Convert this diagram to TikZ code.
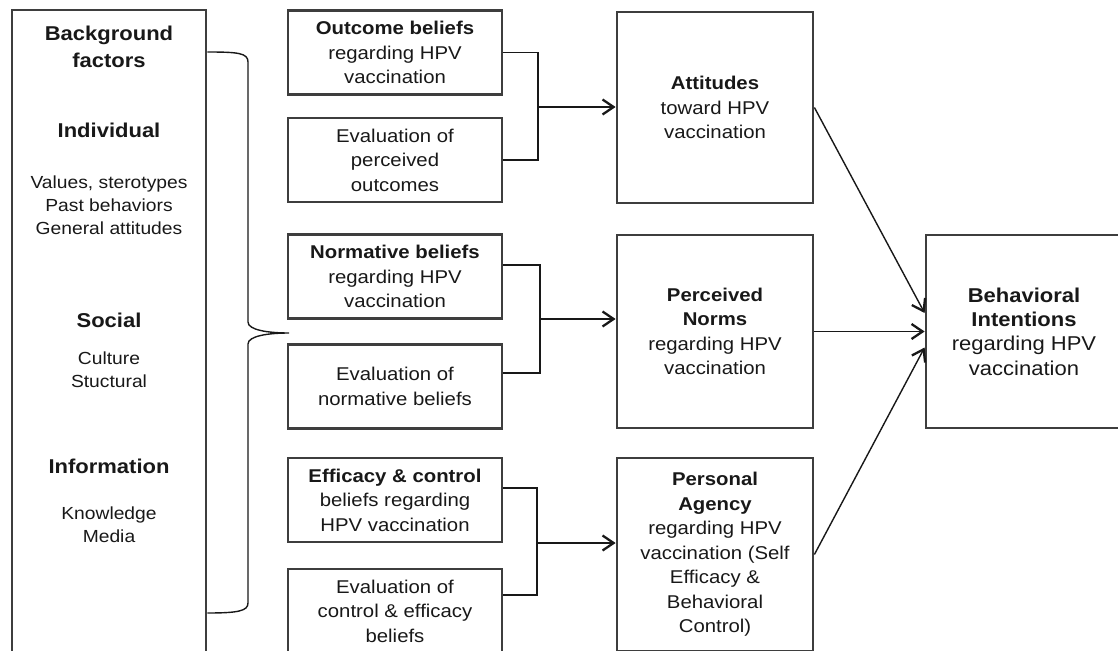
\documentclass[tikz,border=0pt]{standalone}
\usepackage{fontspec}
\setmainfont{Liberation Sans}[FakeStretch=1.1]
\usetikzlibrary{arrows.meta}
\definecolor{boxgray}{RGB}{62,62,62}
\definecolor{ink}{RGB}{24,24,24}

\begin{document}
\begin{tikzpicture}[x=1pt,y=-1pt,
  frame/.style={draw=boxgray, line width=2.8pt, inner sep=0pt, align=center, text=ink},
  pairbox/.style={frame, minimum width=214pt, minimum height=84pt,
    font=\fontsize{18.5}{24.5}\selectfont},
  bigbox/.style={frame, minimum width=196pt, minimum height=193pt,
    font=\fontsize{18.5}{24.5}\selectfont},
  head/.style={text=ink, align=center, inner sep=0pt, font=\bfseries\fontsize{20}{27}\selectfont},
  body/.style={text=ink, align=center, inner sep=0pt, font=\fontsize{17.5}{23}\selectfont},
  link/.style={draw=ink, line width=1.4pt},
  arr/.style={link, -{Straight Barb[length=11pt,width=15pt,line width=2.3pt]}}
]
\useasboundingbox (0,0) rectangle (1118,650);

% background factors column
\node[frame, minimum width=194pt, minimum height=642pt] (bf) at (109,331) {};
\node[head] (bfh) at (109,46.5) {Background\\factors};
\node[head, anchor=base] (ind) at (109,137) {Individual};
\node[body] (indt) at (109,205.5) {Values, sterotypes\\Past behaviors\\General attitudes};
\node[head, anchor=base] (soc) at (109,327.5) {Social};
\node[body] (soct) at (109,370) {Culture\\Stuctural};
\node[head, anchor=base] (inf) at (109,473) {Information};
\node[body] (inft) at (109,525) {Knowledge\\Media};

% brace gathering the background factors
\coordinate (tip) at (289,333);
\draw[link] (bf.east |- 0,52) .. controls (238,52) and (248,53) .. (248,62)
  -- (248,322) .. controls (248,330) and (268,333) .. (tip)
  .. controls (268,333) and (248,336) .. (248,344)
  -- (248,603) .. controls (248,611) and (238,613) .. (bf.east |- 0,613);

% belief / evaluation pairs
\node[pairbox] (ob)  at (395,52.5) {\textbf{Outcome beliefs}\\regarding HPV\\vaccination};
\node[pairbox] (ev1) at (395,160)  {Evaluation of\\perceived\\outcomes};
\node[pairbox] (nb)  at (395,276.5) {\textbf{Normative beliefs}\\regarding HPV\\vaccination};
\node[pairbox] (ev2) at (395,386.5) {Evaluation of\\normative beliefs};
\node[pairbox] (ec)  at (395,500)  {\textbf{Efficacy \& control}\\beliefs regarding\\HPV vaccination};
\node[pairbox] (ev3) at (395,611)  {Evaluation of\\control \& efficacy\\beliefs};

% constructs
\node[bigbox, minimum height=191pt] (att) at (715,107.5) {\textbf{Attitudes}\\toward HPV\\vaccination};
\node[bigbox] (pn) at (715,331.5) {\textbf{Perceived}\\\textbf{Norms}\\regarding HPV\\vaccination};
\node[bigbox] (pa) at (715,554.5) {\textbf{Personal}\\\textbf{Agency}\\regarding HPV\\vaccination (Self\\Efficacy \&\\Behavioral\\Control)};
\node[bigbox, font=\fontsize{20}{24.3}\selectfont] (bi) at (1024,331.5)
  {\textbf{Behavioral}\\\textbf{Intentions}\\regarding HPV\\vaccination};

% junctions of the pairs
\coordinate (j1) at (538,107);
\coordinate (j2) at (540,319);
\coordinate (j3) at (537,543);

\draw[link] (ob.east) -| (j1);
\draw[link] (ev1.east) -| (j1);
\draw[arr] (j1) -- (att.west |- j1);

\draw[link] ([yshift=11.5pt]nb.east) -| (j2);
\draw[link] ([yshift=13.5pt]ev2.east) -| (j2);
\draw[arr] (j2) -- (pn.west |- j2);

\draw[link] ([yshift=12pt]ec.east) -| (j3);
\draw[link] ([yshift=16pt]ev3.east) -| (j3);
\draw[arr] (j3) -- (pa.west |- j3);

% constructs to intentions
\draw[arr] (att.east) -- ([yshift=18.5pt]bi.west);
\draw[arr] (pn.east) -- (bi.west);
\draw[arr] (pa.east) -- ([yshift=-16pt]bi.west);
\end{tikzpicture}
\end{document}
